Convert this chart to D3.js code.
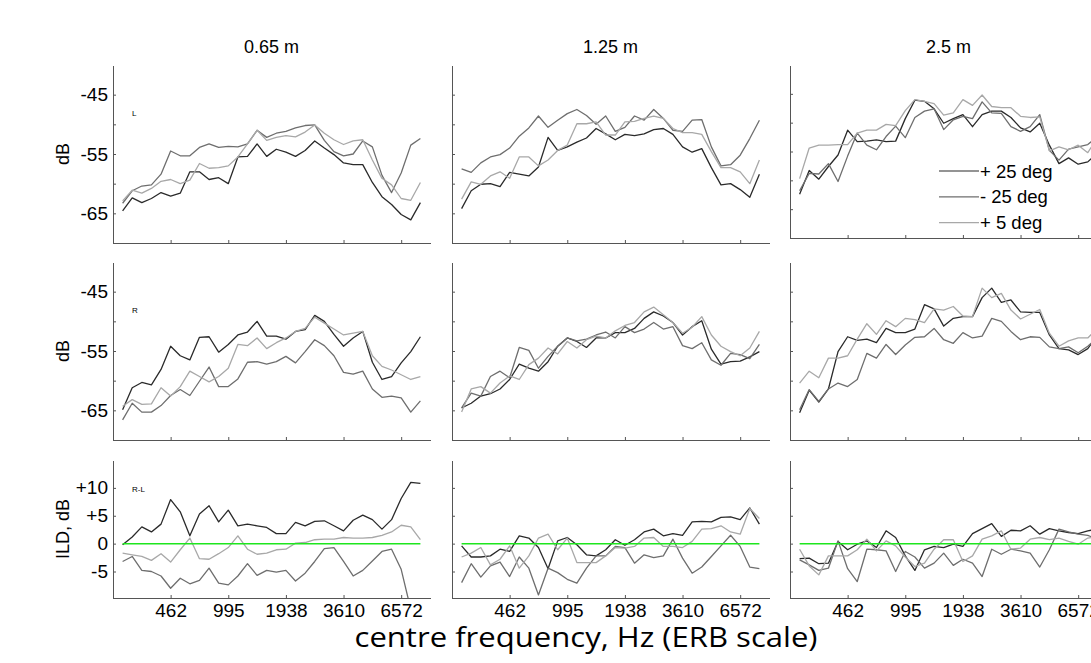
<!DOCTYPE html>
<meta charset="utf-8">
<style>
  body { margin: 0; background: #fff; }
  text { font-family: "Liberation Sans", Arial, sans-serif; fill: #000; }
</style>
<svg width="1091" height="663"></svg>
<script src="https://cdn.jsdelivr.net/npm/d3@7"></script>
<script>
// columns = distance, rows = ear (L, R, R-L)
var distances = ["0.65 m", "1.25 m", "2.5 m"];
var rowTags = ["L", "R", "R-L"];
var rowLabels = ["dB", "dB", "ILD, dB"];
var angles = ["+ 25 deg", "- 25 deg", "+ 5 deg"];
var channels = d3.range(1, 33);
var tickChannels = [6, 12, 18, 24, 30];
var tickFreqs = ["462", "995", "1938", "3610", "6572"];
var dbTicks = [-65, -60, -55, -50, -45];
var ildTicks = [-5, 0, 5, 10];

// left ear level, dB
var L065_p25 = [-64.6,-62.4,-63.2,-62.5,-61.5,-62.1,-61.6,-58,-58,-59.3,-59,-60,-55.5,-55.4,-53.3,-55.4,-54.2,-54.7,-55.4,-54.4,-52.8,-54,-55.1,-56.5,-56.8,-56.8,-59.8,-62.2,-63.5,-65.2,-66.1,-63.2];
var L065_m25 = [-63.3,-61.2,-60.4,-60.2,-58.4,-54.5,-55.3,-55.3,-53.9,-53.3,-53.9,-53.7,-53.8,-53.3,-51,-52.2,-51.5,-51.2,-50.6,-50.2,-50.1,-52.7,-54.6,-55.3,-55,-52.8,-53.8,-58.6,-61.5,-58.2,-53.5,-52.4];
var L065_p5 = [-62.9,-61.1,-61.6,-60.8,-59.6,-59.3,-60,-59.4,-56.6,-57.4,-57.3,-57,-55.5,-53.3,-51,-52.7,-52.2,-51.9,-52.1,-51.3,-50.1,-51.5,-52.6,-53.4,-52.8,-52.6,-56,-59.1,-60.2,-62.5,-62.8,-59.8];
var L125_p25 = [-64.2,-61.2,-60.1,-60,-60.5,-58.1,-58.4,-58.7,-57.2,-52.2,-54.4,-53.8,-53,-52.3,-50.7,-51.6,-52.6,-51.7,-51.9,-51.6,-50.9,-50.7,-51.7,-53.8,-54.7,-54.1,-57.3,-60.2,-60,-61,-62.3,-58.4];
var L125_m25 = [-57.5,-58.1,-56.5,-55.5,-55.1,-54,-52,-50.6,-48.6,-50.5,-49.3,-48.2,-47.5,-48.5,-50,-48.6,-51.2,-50.5,-48.6,-49.3,-47.5,-49,-51,-51.2,-49.3,-49.2,-53.8,-57,-56.8,-55.2,-52.4,-49.3];
var L125_p5 = [-62.6,-59.7,-60.1,-58.7,-58,-59.1,-55.5,-55.5,-57,-56,-54.4,-53.5,-49.9,-49.9,-49.6,-51.8,-51.8,-49.6,-49.5,-49,-48.6,-49,-50.7,-51.4,-51.4,-51.7,-54.6,-57.3,-57.3,-58,-60,-56];
var L25_p25 = [-62.4,-58.3,-59.8,-57.6,-55.6,-51.3,-53.3,-53.2,-53,-53.3,-53.2,-49.3,-46.1,-46.3,-47.6,-50.1,-49.3,-48.6,-50.7,-48.6,-48,-48,-49.1,-50.9,-51.6,-50.1,-53.9,-57.1,-56.1,-57.2,-56.8,-55.2];
var L25_m25 = [-61.8,-58.8,-58.9,-57.1,-60.2,-55.8,-51.8,-53.9,-54.7,-52.4,-50.6,-52.6,-49.1,-48,-47.6,-51.2,-49.5,-48.9,-49.3,-46.4,-48.3,-48.4,-50.7,-51.5,-50.7,-48.6,-54.8,-56.5,-54.6,-54.2,-53.8,-52.4];
var L25_p5 = [-59.7,-54.4,-53.9,-53.9,-53.8,-53.8,-51.8,-51.3,-51.3,-50.3,-50.5,-47.9,-46,-46.3,-46.7,-48.7,-48.3,-46,-47,-45.2,-47.2,-47.4,-47.4,-48.9,-49.1,-49,-54.9,-54.2,-54.7,-53.9,-55.2,-52.6];

// right ear level, dB
var R065_p25 = [-64.9,-61.2,-60.3,-60.7,-58.1,-54.2,-55.8,-56.5,-52.7,-52.6,-55.2,-53.9,-52.3,-51.8,-50,-52.5,-52.5,-53,-51.7,-51.4,-49,-50,-52.2,-54.2,-52.8,-51.7,-56.9,-59.8,-59.3,-57,-55.1,-52.6];
var R065_m25 = [-66.6,-63.8,-65.3,-65.3,-64.2,-62.5,-61.5,-62.5,-60.1,-57.7,-61,-61,-59.7,-56.9,-56.8,-57.2,-56.8,-55.9,-57,-55.1,-53.1,-54.1,-55.8,-58.6,-58.9,-58.4,-61.4,-62.8,-62.6,-62.9,-65.3,-63.4];
var R065_p5 = [-64.3,-63.2,-64,-63.9,-61.2,-62.6,-61,-58.4,-59.3,-60.2,-59.3,-57.9,-53.9,-54.1,-52.8,-54.6,-53.6,-52.8,-51.7,-51.2,-49.3,-50.3,-51.3,-52.3,-52,-51.7,-55.8,-57.6,-58.2,-59,-59.8,-59.3];
var R125_p25 = [-64.6,-63.8,-62.6,-62.2,-61.4,-59.8,-57.2,-57.9,-58.4,-56.8,-54.2,-52.8,-53.4,-54.4,-52.8,-52.8,-51.9,-51.9,-51.2,-49.5,-48.4,-49.1,-50.2,-52.3,-50.9,-49.9,-54.7,-57.2,-56.8,-56.7,-56,-55.1];
var R125_m25 = [-64.6,-62.1,-62.6,-59.3,-58.4,-59.5,-54.4,-54.9,-57.9,-55.9,-54.2,-52.8,-53.3,-53,-52.3,-51.8,-52.8,-50.9,-51.9,-51.3,-50.2,-51.3,-50.9,-54.1,-54.6,-53.6,-56.5,-57.4,-55.4,-55.6,-56.3,-53.9];
var R125_p5 = [-65.3,-61.4,-61,-62.1,-60.4,-59.2,-59.8,-57.3,-56.2,-54.5,-55.5,-53.4,-54.5,-53.1,-52.5,-52.8,-51.6,-50.7,-50.2,-48.4,-47.6,-48.9,-50.2,-52,-51,-49.2,-52.3,-54.2,-55.1,-55.8,-54.5,-51.7];
var R25_p25 = [-65.4,-61.6,-63.6,-61.4,-55.1,-52.6,-53.2,-53,-53.6,-51.2,-51.9,-51.9,-51.3,-47.2,-47.9,-50.8,-49.5,-49.2,-49.2,-46,-44.4,-46.8,-46.4,-48.4,-48.5,-48.5,-52.3,-54.6,-54.8,-55.6,-54.6,-52.4];
var R25_m25 = [-64.9,-61.5,-63.5,-61.4,-60.4,-61,-59.8,-55.4,-56.2,-53.9,-55.6,-54,-52.7,-52.6,-51.2,-53.1,-53.7,-51.9,-52.8,-52.5,-49.5,-50,-51.7,-53.1,-52.6,-52.7,-54.3,-54.6,-54.3,-55.3,-54.2,-52.8];
var R25_p5 = [-60.4,-58.4,-59.5,-56.2,-56.2,-55.8,-53,-50.4,-52.2,-49.9,-50.9,-49.5,-49.7,-50.2,-47.9,-48.1,-47.5,-49.1,-49.2,-44.4,-46,-45.3,-48.1,-49.6,-48.8,-48,-52,-54.2,-53.3,-52.8,-52.8,-51.2];

// interaural level difference R-L, dB
var I065_p25 = [-0.2,1.2,3,2.1,3.5,7.9,5.7,1.4,5.3,6.8,3.9,6,3.2,3.5,3.2,2.9,1.8,1.8,3.8,3.2,4,4.1,3.2,2.3,4.2,5.1,4.3,2.6,4.3,8.1,11,10.8];
var I065_m25 = [-3.2,-2.3,-4.8,-5,-5.8,-8,-6.2,-7.2,-6.6,-4.4,-7.1,-7.4,-5.8,-3.6,-5.7,-4.8,-5.1,-4.8,-6.7,-5.3,-3.2,-0.9,-0.7,-3.2,-5.8,-4.8,-3.1,-1.4,-1,-4.6,-11.8,-11];
var I065_p5 = [-1.7,-2,-2.3,-3,-1.8,-3.3,-1.1,1,-2.7,-2.8,-1.8,-0.7,1.4,-1,-1.9,-1.7,-1.1,-1,0.1,0.2,0.7,0.8,0.8,1.1,1,1,1.1,1.5,2.1,3.3,3,0.7];
var I125_p25 = [-0.4,-2.4,-2.4,-2.2,-1,-1.4,1.4,1,-0.7,-4.5,0.5,1.1,-0.2,-2,-2.2,-1.1,0.7,-0.3,0.7,2.1,2.6,1.4,1.8,1.5,3.9,4,3.9,4.7,4.8,4.3,6.4,3.5];
var I125_m25 = [-7,-3.6,-6,-4,-3.3,-5.9,-2.4,-4.4,-9.2,-4.4,-5.2,-6.4,-7.1,-4.4,-2.2,-2.2,-0.5,-0.7,-3.5,-2,-2.5,-2.2,0.8,-2.6,-5.3,-4.2,-2.3,-0.4,1.5,-0.5,-4.2,-4.5];
var I125_p5 = [-2.4,-1.7,-0.7,-3.8,-2.8,-0.4,-4.4,-2.2,1,1.7,-1.1,1,-3.4,-3.4,-3.4,-2.2,-0.7,-0.8,-0.5,1,1.1,-0.5,-0.5,-0.7,0.4,2.6,2.7,3.2,2.1,1.7,6.3,4.5];
var I25_p25 = [-2.7,-2.6,-3.6,-3.5,0.4,-1.1,-0.1,0.5,-0.7,2.3,1.1,-2.2,-4.8,-1.1,-0.5,-0.7,-0.1,-0.5,1.8,2.7,3.6,1.3,2.4,2.3,3.2,1.7,2.7,2.3,2,1.8,2.3,2.6];
var I25_m25 = [-2.9,-3.8,-4.8,-4.4,0.5,-4.5,-6.8,-1,-1.1,-1.3,-5,-1.4,-2.4,-4.4,-3.5,-1.7,-3.9,-2.8,-3.5,-5.9,-1,-1.9,-1,-1.3,-1.7,-4.2,-1.1,2.6,2.1,1.7,1.5,0.8];
var I25_p5 = [-1,-4,-5.6,-2.2,-2.2,-2.2,-1.1,0.8,-1.3,0.5,-0.4,-2.4,-4.1,-3.5,-1,0.7,0.7,-3.2,-2.2,0.8,1.4,2.3,-1,-0.8,0.8,1.1,0.7,1,0.4,-0.1,1,1.2];

var panels = [
  [[L065_p25, L065_m25, L065_p5], [L125_p25, L125_m25, L125_p5], [L25_p25, L25_m25, L25_p5]],
  [[R065_p25, R065_m25, R065_p5], [R125_p25, R125_m25, R125_p5], [R25_p25, R25_m25, R25_p5]],
  [[I065_p25, I065_m25, I065_p5], [I125_p25, I125_m25, I125_p5], [I25_p25, I25_m25, I25_p5]]
];

var lineColors = ["#2a2a2a", "#6e6e6e", "#a8a8a8"];
var axisColor = "#555";

var svg = d3.select("svg");
var colLeft = [113, 452, 790], colW = 317;
var rowTop = [65, 262, 460], rowH = [178, 178, 138];

var x = d3.scaleLinear().domain([0, 33]).range([0, colW]);

panels.forEach(function(rowData, r) {
  rowData.forEach(function(series, c) {
    // legend squeezes the top-right axes a little
    var h = (r == 0 && c == 2) ? 173 : rowH[r];
    var y = d3.scaleLinear()
        .domain(r < 2 ? [-70, -40] : [-9.75, 15])
        .range([h, 0]);
    var g = svg.append("g")
        .attr("transform", "translate(" + colLeft[c] + "," + rowTop[r] + ")");

    var clipId = "clip" + r + c;
    g.append("clipPath").attr("id", clipId)
      .append("rect").attr("width", colW).attr("height", h);

    var line = d3.line()
        .x(function(d, i) { return x(channels[i]); })
        .y(function(d) { return y(d); });

    var plot = g.append("g").attr("clip-path", "url(#" + clipId + ")");
    series.forEach(function(vals, k) {
      plot.append("path")
        .datum(vals)
        .attr("d", line)
        .attr("fill", "none")
        .attr("stroke", lineColors[k])
        .attr("stroke-width", 1.3)
        .attr("stroke-linejoin", "round");
    });

    if (r == 2) {
      plot.append("line")
        .attr("x1", x(channels[0])).attr("x2", x(channels[channels.length - 1]))
        .attr("y1", y(0)).attr("y2", y(0))
        .attr("stroke", "#1ee61e")
        .attr("stroke-width", 1.5);
    }

    var yAxis = d3.axisLeft(y)
        .tickValues(r < 2 ? dbTicks : ildTicks)
        .tickSizeInner(-3).tickSizeOuter(0).tickPadding(5)
        .tickFormat(function(d) {
          if (c > 0) return "";
          if (r < 2) return (d == -60 || d == -50) ? "" : d;
          return d > 0 ? "+" + d : d;
        });
    var xAxis = d3.axisBottom(x)
        .tickValues(tickChannels)
        .tickSizeInner(-3).tickSizeOuter(0).tickPadding(6)
        .tickFormat(function(d, i) { return r == 2 ? tickFreqs[i] : ""; });

    var ya = g.append("g").call(yAxis);
    var xa = g.append("g").attr("transform", "translate(0," + h + ")").call(xAxis);
    [ya, xa].forEach(function(a) {
      a.attr("font-family", null).attr("font-size", null);
      a.select(".domain").attr("stroke", axisColor).attr("shape-rendering", "crispEdges");
      a.selectAll(".tick line").attr("stroke", axisColor);
      a.selectAll(".tick text").style("font-size", "19px").attr("fill", "#000");
    });

    if (c == 0) {
      g.append("text")
        .attr("x", 19).attr("y", r == 2 ? 32 : 51)
        .style("font-size", "8px")
        .text(rowTags[r]);
      g.append("text")
        .attr("transform", "translate(-44," + (h / 2) + ") rotate(-90)")
        .attr("text-anchor", "middle")
        .style("font-size", "18px")
        .text(rowLabels[r]);
    }
    if (r == 0) {
      g.append("text")
        .attr("x", colW / 2).attr("y", -12)
        .attr("text-anchor", "middle")
        .style("font-size", "18px")
        .text(distances[c]);
    }
    if (r == 0 && c == 2) {
      var leg = g.append("g").attr("transform", "translate(149,106)");
      angles.forEach(function(a, k) {
        var ly = k * 25.8;
        leg.append("line")
          .attr("x1", 0).attr("x2", 40).attr("y1", ly).attr("y2", ly)
          .attr("stroke", lineColors[k]).attr("stroke-width", 1.2);
        leg.append("text")
          .attr("x", 41).attr("y", ly + 6.5)
          .style("font-size", "18.5px")
          .text(a);
      });
    }
  });
});

svg.append("text")
  .attr("x", 586).attr("y", 647)
  .attr("text-anchor", "middle")
  .attr("textLength", 463).attr("lengthAdjust", "spacingAndGlyphs")
  .style("font-family", "'Open Sans', sans-serif")
  .style("font-size", "27px")
  .text("centre frequency, Hz (ERB scale)");
</script>
